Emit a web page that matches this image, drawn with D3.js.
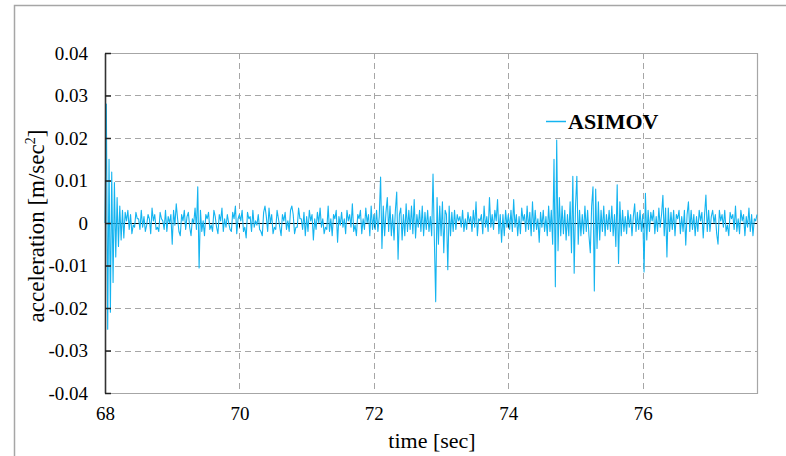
<!DOCTYPE html>
<html>
<head>
<meta charset="utf-8">
<script src="https://cdn.jsdelivr.net/npm/d3@7"></script>
<style>
html,body{margin:0;padding:0;background:#fff;}
svg{display:block;}
text{font-family:"Liberation Serif","Times New Roman",serif;fill:#000;}
</style>
</head>
<body>
<svg id="chart" width="786" height="456"></svg>
<script>
// acceleration values in units of 0.001 m/sec^2, sampled every 0.02 s, one array per second
const acc68 = [0, 28, -25, 15, -21, 12, -14, 9.5, -8, 6, -5.5, 4, -4, 3, -3.5, 2.5, 0.5, 3, -1.5, 2, -2.5, -0.5, -1, 2.5, 1, 1, -1.5, 3, -1, 1.5, -2, -0.5, 2, 1, -2.5, 3.5, 0.5, 2, -1.5, -1, -2, 2.5, 1, 0.5, -1.5, 3, -2, 1.5, 0, 2];
const acc69 = [-5, 3, -0.5, 4.5, 1, -2, -3, 2, 0.5, 3, -1.5, 1.5, 2.5, -1, -3, 1, 0, 3.5, -1.5, 8.5, -10.6, 3, -2, 0.5, -3, 2, 1, 2.5, -1.5, -0.5, -2, 3, 1.5, -1, -2.5, 2, 0.5, 3.5, -2, 1, -1, 2, 0, -1.5, -2, 2.5, 1, 4, -2.5, 1];
const acc70 = [2, 0.5, 3, -2, -1, -3.5, 2.5, 1, 1.5, -2, 3, -1, 0.5, -0.5, 2, -1.5, -2, -3, 2.5, 4, 1.5, -2, 3.5, 0, 2, -2.5, -1, -1.5, 3, 1, -1, -3, 2, 0.5, 2.5, -1.5, 0.5, -2, 3, 4, 2, -2.5, -1, -1, 3.5, 1, 1, -1.5, 2.5, -3];
const acc71 = [1.5, -2, 3, 0.5, 2, -4, 1, -1.5, 2.5, 0, 3.5, -1, 1, -2.5, -1, -1.5, 4, -2, 1, -3, 2, 1, 3, -4.5, 1.5, -0.5, 2.5, -1, 1, -2.5, 3, 0.5, 2, -1, 4.5, -2, -0.5, -3, 2, 1, 3, -2.5, 1, -1.5, 3.5, 0, 2, -3, 4, -1.5];
const acc72 = [2, -1.5, 3, -2, 1.5, 10.8, -6, 4, -3, 2.5, 6, -2, 4, -3, 2, -4, 3, 7.3, -8.5, 2, 3.5, -4, 2, -3, 4.5, -2, 3, -1.5, 4, -2.5, 5.5, -3.5, 2, -1, 3, -2, 4, -3, 2.5, -1.5, 3, -2, 1.5, -3, 11.5, -4, -18.5, 6, -5, 4];
const acc73 = [-3, 5, -7, 3, 2, -11, 4, -3, 2.5, -2, 3, -1.5, 2, 0.5, 1.5, -1, 3, -2, 1, -1.5, 2.5, 0, 1.5, -2, 3, -1, 5, -3, 1, 0.5, 2, -2.5, 4, -1, 1.5, -2, 6, -1, 2, -1.5, 3, 0.5, 5.5, -2.5, 2, -4.5, 2, -3, 3, -1];
const acc74 = [2, -1.5, 3, -2, 5.5, -1, 2, -3, 1.5, -2.5, 3.5, 0.5, 2, -2, 4, -1.5, 2.5, -3, 5, -2, 3, -1.5, 1, -4.5, 2.5, -1, 3, -2, 1.5, -3, 4, -2, 3, -5, 15, -15, 19.5, -6.5, 6, -3, 4, -2.5, 3, -4, 2, -3, 5, -7, 11, -11.8];
const acc75 = [4, 11, -5, 3, -3, 2, -2.5, 4, -2, 3, -3, -7, 4, 8.5, -16, 8, -6, 5, -4, 3, -2, 4, -3, 2, -1.5, 3, -2, 4, -3, 2, -5.5, 9, -9.5, 5, -3, 3, -2, 1.5, -2.5, 3, -1, 2, -3, 1.5, 4.5, -2, 2.5, -1.5, 3, -2];
const acc76 = [2, -11.5, 7, -4, 3, -2, 2.5, 0.5, 3, -2.5, 1.5, -2, 3.5, -1, 2, 6.5, -3, 3.5, -8, 3.5, -2, 2.5, -1.5, 3, -3, 2, 1, 3, -2.5, 1.5, -2, 3, -5.2, 2, 5, -2, 3, -1.5, 2, -3, 1.5, -2, 3, 0.5, 2.5, -3.5, 2, 6.6, -2, 3];
const acc77 = [-2, 1.5, 3, 0, 2, -2.5, -5, 3, 0.5, 2, -1, 3, -2, -0.5, -3, 2.5, 1, 2, -1.5, 4, -2, 1, -2.5, 3, 0.5, 2, -3, 1.5, -1, 3.5, -2, 2, -3, 1, 0.5, 2];

const segments = [[68, acc68], [69, acc69], [70, acc70], [71, acc71], [72, acc72], [73, acc73], [74, acc74], [75, acc75], [76, acc76], [77, acc77]];
const sampleStep = 0.02;

const xTicks = [68, 70, 72, 74, 76];
const xTickLabels = ["68", "70", "72", "74", "76"];
const yTicks = [-0.04, -0.03, -0.02, -0.01, 0, 0.01, 0.02, 0.03, 0.04];
const yTickLabels = ["-0.04", "-0.03", "-0.02", "-0.01", "0", "0.01", "0.02", "0.03", "0.04"];
const seriesName = "ASIMOV";
const xDomain = [68, 77.7];
const yDomain = [-0.04, 0.04];

const data = [];
segments.forEach(([sec, arr]) => {
  arr.forEach((v, i) => data.push({t: sec + i * sampleStep, a: v / 1000}));
});

const svg = d3.select("#chart");
const L = 105, R = 757, T = 53, B = 393;
const x = d3.scaleLinear().domain(xDomain).range([L, R]);
const y = d3.scaleLinear().domain(yDomain).range([B, T]);

// outer frame
svg.append("rect").attr("x", 14.5).attr("y", 5.5).attr("width", 900).attr("height", 600)
  .attr("fill", "none").attr("stroke", "#a6a6a6").attr("stroke-width", 1.5);

// horizontal grid
svg.append("g").selectAll("line").data(yTicks.filter(v => v !== 0 && Math.abs(v) < 0.04)).join("line")
  .attr("x1", L).attr("x2", R)
  .attr("y1", d => Math.round(y(d)) + 0.5).attr("y2", d => Math.round(y(d)) + 0.5)
  .attr("stroke", "#a6a6a6").attr("stroke-width", 1).attr("stroke-dasharray", "6,4");
// vertical grid
svg.append("g").selectAll("line").data(xTicks.filter(v => v !== 68)).join("line")
  .attr("x1", d => Math.round(x(d)) + 0.5).attr("x2", d => Math.round(x(d)) + 0.5)
  .attr("y1", T).attr("y2", B)
  .attr("stroke", "#a6a6a6").attr("stroke-width", 1).attr("stroke-dasharray", "6,4");

// plot border (top, right, bottom)
svg.append("path")
  .attr("d", `M${L},${Math.round(y(0.04)) + 0.5}H${R + 0.5}V${Math.round(y(-0.04)) + 0.5}H${L}`)
  .attr("fill", "none").attr("stroke", "#a6a6a6").attr("stroke-width", 1.2);

// zero line (horizontal axis)
const y0 = Math.round(y(0)) + 0.5;
svg.append("line").attr("x1", L).attr("x2", R).attr("y1", y0).attr("y2", y0)
  .attr("stroke", "#000").attr("stroke-width", 1);
svg.append("g").selectAll("line").data(xTicks.filter(v => v !== 68)).join("line")
  .attr("x1", d => Math.round(x(d)) + 0.5).attr("x2", d => Math.round(x(d)) + 0.5)
  .attr("y1", y0).attr("y2", y0 + 4)
  .attr("stroke", "#000").attr("stroke-width", 1);

// series
const line = d3.line().x(d => x(d.t)).y(d => y(d.a));
svg.append("path").datum(data).attr("d", line)
  .attr("fill", "none").attr("stroke", "#14b4f0").attr("stroke-width", 1.1).attr("stroke-linejoin", "round");

// y axis
const yAxis = d3.axisLeft(y).tickValues(yTicks).tickFormat((d, i) => yTickLabels[i])
  .tickSizeInner(-6).tickSizeOuter(0).tickPadding(17);
const gy = svg.append("g").attr("transform", `translate(${L},0)`).call(yAxis);
gy.select(".domain").attr("stroke", "#333").attr("stroke-width", 1.6);
gy.selectAll(".tick line").attr("stroke", "#222").attr("stroke-width", 1.5);
gy.selectAll(".tick text").attr("font-size", 19).attr("font-family", "Liberation Serif, serif").attr("fill", "#000");

// x axis labels
const xAxis = d3.axisBottom(x).tickValues(xTicks).tickFormat((d, i) => xTickLabels[i])
  .tickSize(0).tickPadding(14);
const gx = svg.append("g").attr("transform", `translate(0,${B})`).call(xAxis);
gx.select(".domain").remove();
gx.selectAll(".tick text").attr("font-size", 19).attr("font-family", "Liberation Serif, serif").attr("fill", "#000");

// axis titles
svg.append("text").attr("x", 432).attr("y", 448).attr("text-anchor", "middle")
  .attr("font-size", 22).text("time [sec]");
const yt = svg.append("text").attr("transform", "translate(44,226) rotate(-90)")
  .attr("text-anchor", "middle").attr("font-size", 23);
yt.append("tspan").text("acceleration [m/sec");
yt.append("tspan").attr("font-size", 14).attr("dy", -9).text("2");
yt.append("tspan").attr("dy", 9).text("]");

// legend
svg.append("line").attr("x1", 546).attr("x2", 566).attr("y1", 121.5).attr("y2", 121.5)
  .attr("stroke", "#14b4f0").attr("stroke-width", 1.5);
svg.append("text").attr("x", 568).attr("y", 129).attr("font-size", 22).attr("font-weight", "bold")
  .text(seriesName);
</script>
</body>
</html>
